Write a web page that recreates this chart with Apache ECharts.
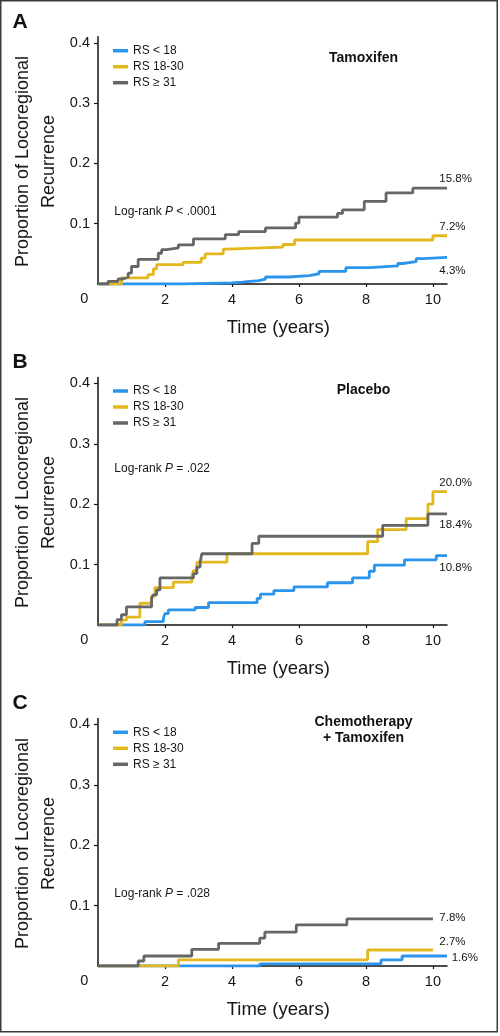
<!DOCTYPE html>
<html><head><meta charset="utf-8">
<script src="https://cdn.jsdelivr.net/npm/echarts@6/dist/echarts.min.js"></script>
<style>html,body{margin:0;padding:0;background:#fff}#c{width:500px;height:1036px}</style>
</head><body><div id="c"></div>
<script>
// ---------- data ----------
const seriesNames = ['RS < 18', 'RS 18-30', 'RS \u2265 31'];
const panelLetters = ['A', 'B', 'C'];
const treatments = ['Tamoxifen', 'Placebo', 'Chemotherapy\n+ Tamoxifen'];
const logRankP = ['< .0001', '= .022', '= .028'];
const xTicks = [2, 4, 6, 8, 10];
const yTicks = [0.1, 0.2, 0.3, 0.4];
const yTickLabels = ['0.1', '0.2', '0.3', '0.4'];

// Panel A: Tamoxifen
const timesA_low  = [0, 2.55, 4.0, 4.3, 4.8, 5.0, 5.7, 6.3, 6.6, 7.4, 8.1, 8.95, 9.1, 9.5, 9.7, 10.42];
const valsA_low   = [0, 0.0017, 0.003, 0.0055, 0.008, 0.0116, 0.014, 0.017, 0.021, 0.027, 0.030, 0.034, 0.037, 0.042, 0.044, 0.044];
const timesA_mid  = [0, 0.7, 1.49, 1.65, 1.75, 2.54, 3.08, 3.2, 3.74, 3.84, 5.52, 5.87, 10.0, 10.42];
const valsA_mid   = [0, 0.010, 0.0155, 0.025, 0.032, 0.036, 0.043, 0.050, 0.058, 0.061, 0.0655, 0.073, 0.080, 0.080];
const timesA_high = [0, 0.3, 0.6, 0.75, 0.9, 1.0, 1.2, 1.8, 1.9, 2.05, 2.4, 2.85, 3.8, 4.2, 5.0, 5.9, 6.0, 7.15, 7.3, 7.95, 8.6, 9.4, 10.42];
const valsA_high  = [0, 0.0044, 0.0083, 0.0116, 0.018, 0.029, 0.041, 0.051, 0.057, 0.060, 0.065, 0.075, 0.082, 0.087, 0.093, 0.101, 0.111, 0.117, 0.123, 0.137, 0.151, 0.159, 0.159];
const endLabelsA  = ['4.3%', '7.2%', '15.8%'];

// Panel B: Placebo
const timesB_low  = [0, 1.4, 1.95, 2.0, 2.1, 2.9, 3.3, 4.75, 4.85, 5.25, 5.85, 6.85, 7.6, 8.1, 8.25, 9.15, 10.1, 10.42];
const valsB_low   = [0, 0.0055, 0.011, 0.019, 0.025, 0.029, 0.037, 0.044, 0.051, 0.057, 0.063, 0.070, 0.078, 0.089, 0.099, 0.108, 0.115, 0.115];
const timesB_mid  = [0, 0.7, 0.85, 1.25, 1.6, 1.7, 2.25, 2.8, 2.85, 2.95, 3.85, 8.05, 8.35, 9.2, 9.85, 10.0, 10.42];
const valsB_mid   = [0, 0.008, 0.013, 0.036, 0.048, 0.062, 0.071, 0.081, 0.090, 0.104, 0.118, 0.138, 0.158, 0.176, 0.200, 0.221, 0.221];
const timesB_high = [0, 0.57, 0.7, 0.85, 1.6, 1.65, 1.75, 1.85, 2.85, 2.95, 3.05, 3.1, 4.6, 4.8, 8.5, 9.85, 10.42];
const valsB_high  = [0, 0.009, 0.017, 0.030, 0.044, 0.050, 0.058, 0.078, 0.085, 0.096, 0.104, 0.118, 0.135, 0.147, 0.165, 0.184, 0.184];
const endLabelsB  = ['10.8%', '20.0%', '18.4%'];

// Panel C: Chemotherapy + Tamoxifen
const timesC_low  = [0, 4.83, 8.45, 9.08, 10.42];
const valsC_low   = [0, 0.0035, 0.010, 0.0166, 0.0166];
const timesC_mid  = [0, 2.4, 8.05, 10.0];
const valsC_mid   = [0, 0.010, 0.0265, 0.0265];
const timesC_high = [0, 1.2, 1.37, 2.8, 3.6, 4.83, 4.98, 5.92, 7.43, 10.0];
const valsC_high  = [0, 0.0083, 0.0166, 0.0276, 0.0376, 0.046, 0.056, 0.068, 0.078, 0.078];
const endLabelsC  = ['1.6%', '2.7%', '7.8%'];

// ---------- layout / style ----------
const FONT = "'Liberation Sans', Arial, Helvetica, sans-serif";
const TXT = '#161616';
const colors = ['#2b95ec', '#e2b81e', '#666666'];
const axisY = [284, 625, 966];           // pixel y of value 0 for each panel
const gridTop = [36.8, 377.4, 718.4];
const gridH = [247.2, 247.6, 247.6];
const panelData = [
  [[timesA_low, valsA_low], [timesA_mid, valsA_mid], [timesA_high, valsA_high]],
  [[timesB_low, valsB_low], [timesB_mid, valsB_mid], [timesB_high, valsB_high]],
  [[timesC_low, valsC_low], [timesC_mid, valsC_mid], [timesC_high, valsC_high]]
];
const endLabels = [endLabelsA, endLabelsB, endLabelsC];
const endLabelPos = [
  [[439.3, 270.7], [439.3, 226.7], [439.3, 179]],
  [[439.3, 567.7], [439.3, 482.7], [439.3, 525.3]],
  [[451.7, 958.3], [439.3, 942.3], [439.3, 918.3]]
];
const letterY = [22.6, 362.5, 703.4];
const legendTop = [44.7, 385.0, 726.3];
const treatY = [57.8, 390.4, 730.4];
const logRankY = [211.8, 469, 893.5];

const zip = (t, v) => t.map((x, i) => [x, v[i]]);

const grids = [], xAxes = [], yAxes = [], series = [], legends = [], graphics = [];

for (let p = 0; p < 3; p++) {
  grids.push({ left: 98, top: gridTop[p], width: 349, height: gridH[p] });
  xAxes.push({
    type: 'value', gridIndex: p, min: 0, max: 10.42,
    axisLine: { show: true, onZero: false, lineStyle: { color: '#111', width: 1.5 } },
    axisTick: { show: true, length: 3, customValues: xTicks, lineStyle: { color: '#111', width: 1.2 } },
    axisLabel: { customValues: xTicks, margin: 8, fontSize: 14.5, color: TXT, fontFamily: FONT },
    splitLine: { show: false }
  });
  yAxes.push({
    type: 'value', gridIndex: p, min: 0, max: 0.41,
    axisLine: { show: true, onZero: false, lineStyle: { color: '#111', width: 1.5 } },
    axisTick: { show: true, length: 4, customValues: yTicks, lineStyle: { color: '#111', width: 1.2 } },
    axisLabel: {
      customValues: yTicks, margin: 8, fontSize: 14.5, color: TXT, fontFamily: FONT,
      formatter: v => yTickLabels[yTicks.findIndex(t => Math.abs(t - v) < 1e-6)] || ''
    },
    splitLine: { show: false }
  });
  for (let s = 0; s < 3; s++) {
    const [t, v] = panelData[p][s];
    series.push({
      name: seriesNames[s], type: 'line', xAxisIndex: p, yAxisIndex: p,
      step: 'end', symbol: 'none', showSymbol: false,
      data: zip(t, v), z: 2 + s,
      lineStyle: { color: colors[s], width: 2.8 },
      itemStyle: { color: colors[s] },
      emphasis: { disabled: true }
    });
  }
  legends.push({
    data: seriesNames, orient: 'vertical', left: 113, top: legendTop[p], padding: 0,
    icon: 'rect', itemWidth: 15, itemHeight: 3.5, itemGap: 4,
    selectedMode: false,
    textStyle: { fontSize: 12, color: TXT, fontFamily: FONT, padding: [0, 0, 0, 0] }
  });

  const ay = axisY[p];
  graphics.push({ type: 'text', x: 12.5, y: letterY[p], style: { text: panelLetters[p], font: `bold 21px ${FONT}`, fill: '#111', align: 'left', verticalAlign: 'middle' } });
  graphics.push({ type: 'text', x: 84.3, y: ay + 15, style: { text: '0', font: `14.5px ${FONT}`, fill: TXT, align: 'center', verticalAlign: 'middle' } });
  graphics.push({ type: 'text', x: 278.3, y: ay + 44, style: { text: 'Time (years)', font: `18.5px ${FONT}`, fill: TXT, align: 'center', verticalAlign: 'middle' } });
  graphics.push({ type: 'text', x: 36.5, y: ay - 122.5, rotation: Math.PI / 2,
    style: { text: 'Proportion of Locoregional\nRecurrence', font: `18px ${FONT}`, fill: TXT, align: 'center', verticalAlign: 'middle', lineHeight: 26 } });
  graphics.push({ type: 'text', x: 363.5, y: treatY[p], style: { text: treatments[p], font: `bold 14px ${FONT}`, fill: '#111', align: 'center', verticalAlign: 'middle', lineHeight: 16 } });
  graphics.push({ type: 'text', x: 114.3, y: logRankY[p], style: {
    text: '{n|Log-rank }{i|P}{n| ' + logRankP[p] + '}', verticalAlign: 'middle', align: 'left',
    rich: { n: { fontSize: 12, fontFamily: FONT, fill: TXT }, i: { fontSize: 12, fontFamily: FONT, fontStyle: 'italic', fill: TXT } }
  } });
  for (let s = 0; s < 3; s++) {
    graphics.push({ type: 'text', x: endLabelPos[p][s][0], y: endLabelPos[p][s][1], style: { text: endLabels[p][s], font: `11.5px ${FONT}`, fill: TXT, align: 'left', verticalAlign: 'middle' } });
  }
}
graphics.push({ type: 'rect', shape: { x: 0.75, y: 0.75, width: 496.5, height: 1031 }, style: { fill: null, stroke: '#3a3a3a', lineWidth: 1.5 }, z: 100 });

const chart = echarts.init(document.getElementById('c'), null, { renderer: 'canvas' });
chart.setOption({
  backgroundColor: '#fff',
  animation: false,
  textStyle: { fontFamily: FONT },
  grid: grids, xAxis: xAxes, yAxis: yAxes, legend: legends, series: series,
  graphic: graphics
});
</script></body></html>
